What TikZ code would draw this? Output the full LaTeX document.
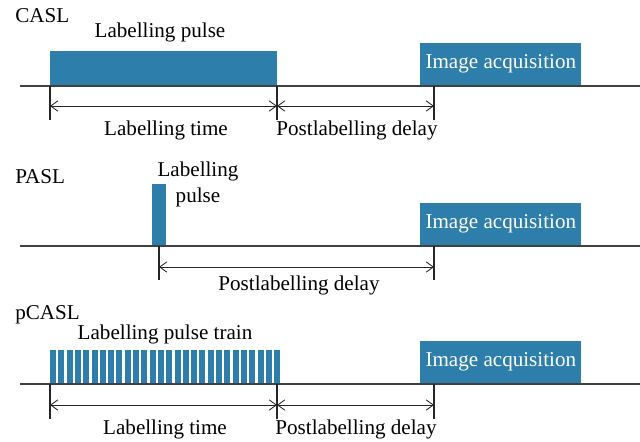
\documentclass[tikz,border=0pt]{standalone}
\usepackage{fontspec}
\setmainfont{Liberation Serif}
\usetikzlibrary{arrows.meta,positioning}
\definecolor{pulseblue}{HTML}{2E7EAB}
\definecolor{axisgray}{HTML}{404040}

\begin{document}
\begin{tikzpicture}[
  x=0.025cm, y=-0.025cm,
  txt/.style={inner sep=0pt, anchor=base, font=\fontsize{15}{16.5}\selectfont},
  seqname/.style={txt, anchor=base west},
  pulse/.style={fill=pulseblue},
  acq/.style={fill=pulseblue, text=white, inner sep=0pt, anchor=south west, minimum width=4.025cm, minimum height=1.075cm, font=\fontsize{15}{16.5}\selectfont},
  axis/.style={draw=axisgray, line width=1pt},
  tick/.style={draw=black!85, line width=0.8pt},
  span/.style={{Straight Barb[length=1.8mm,width=2.6mm]}-{Straight Barb[length=1.8mm,width=2.6mm]}, line width=0.6pt, draw=black!85}
]
\useasboundingbox (0,0) rectangle (640,442);

% CASL
\node[seqname] (casl) at (15,22) {CASL};
\fill[pulse] (50,51) rectangle (277,86);
\node[txt] (caslpulse) at (160,37) {Labelling pulse};
\node[acq] (caslacq) at (420,86) {Image acquisition};
\coordinate (casl0) at (20,86);
\coordinate (casl1) at (640,86);
\draw[axis] (casl0) -- (casl1);
\foreach \n/\x in {a/50,b/277,c/434}{
  \coordinate (casl\n top) at (\x,86);
  \coordinate (casl\n mid) at (\x,106);
  \coordinate (casl\n bot) at (\x,120);
  \draw[tick] (casl\n top) -- (casl\n bot);
}
\draw[span] (caslamid) -- (caslbmid);
\draw[span] (caslbmid) -- (caslcmid);
\node[txt] (casltime) at (166,135) {Labelling time};
\node[txt] (casldelay) at (357,135) {Postlabelling delay};

% PASL
\node[seqname] (pasl) at (15,183) {PASL};
\fill[pulse] (152,184) rectangle (166,246);
\node[txt, align=center] (paslpulse) at (198,202) {Labelling\\[1.5pt]pulse};
\node[acq] (paslacq) at (420,246) {Image acquisition};
\coordinate (pasl0) at (20,246);
\coordinate (pasl1) at (640,246);
\draw[axis] (pasl0) -- (pasl1);
\foreach \n/\x in {a/159,c/434}{
  \coordinate (pasl\n top) at (\x,246);
  \coordinate (pasl\n mid) at (\x,267);
  \coordinate (pasl\n bot) at (\x,280);
  \draw[tick] (pasl\n top) -- (pasl\n bot);
}
\draw[span] (paslamid) -- (paslcmid);
\node[txt] (pasldelay) at (299,290) {Postlabelling delay};

% pCASL
\node[seqname] (pcasl) at (15,319) {pCASL};
\foreach \i in {0,...,27}
  \fill[pulse] ({50+\i*8.3},350) rectangle ({56+\i*8.3},384);
\node[txt] (pcaslpulse) at (165,339) {Labelling pulse train};
\node[acq] (pcaslacq) at (420,384) {Image acquisition};
\coordinate (pcasl0) at (20,384);
\coordinate (pcasl1) at (640,384);
\draw[axis] (pcasl0) -- (pcasl1);
\foreach \n/\x in {a/50,b/277,c/434}{
  \coordinate (pcasl\n top) at (\x,384);
  \coordinate (pcasl\n mid) at (\x,405);
  \coordinate (pcasl\n bot) at (\x,419);
  \draw[tick] (pcasl\n top) -- (pcasl\n bot);
}
\draw[span] (pcaslamid) -- (pcaslbmid);
\draw[span] (pcaslbmid) -- (pcaslcmid);
\node[txt] (pcasltime) at (165,434) {Labelling time};
\node[txt] (pcasldelay) at (356,434) {Postlabelling delay};
\end{tikzpicture}
\end{document}
